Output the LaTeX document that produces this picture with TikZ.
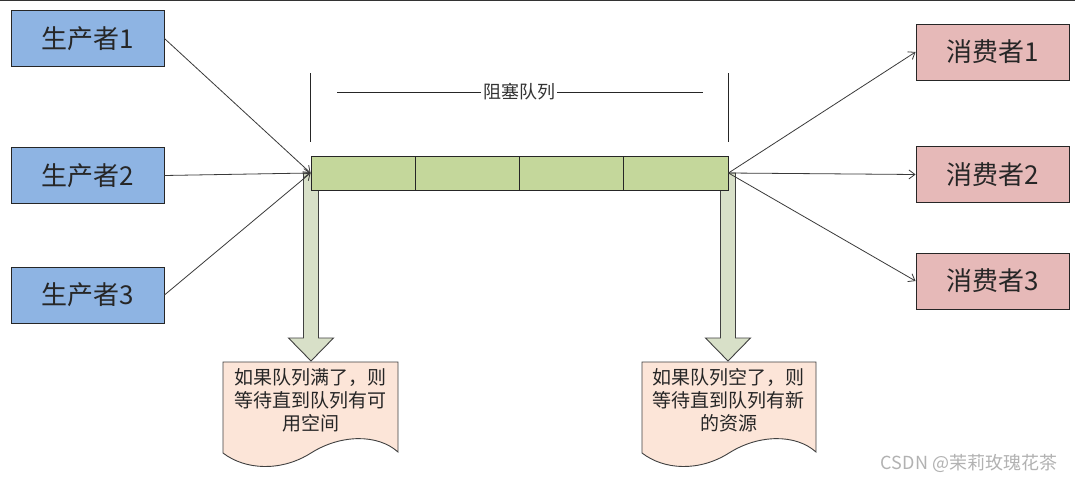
\documentclass[tikz,border=0pt]{standalone}
\usepackage{fontspec}
\newfontfamily\cjk{Noto Sans CJK SC}
\usetikzlibrary{arrows.meta,calc}
\definecolor{prodfill}{HTML}{8EB4E3}
\definecolor{consfill}{HTML}{E6B9B8}
\definecolor{qfill}{HTML}{C4D79B}
\definecolor{afill}{HTML}{D8E0C8}
\definecolor{docfill}{HTML}{FCE5D8}
\definecolor{edgec}{HTML}{262626}
\definecolor{conn}{HTML}{3A3A3A}
\tikzset{
  actor/.style={draw=edgec, line width=0.9pt, minimum width=153pt, minimum height=56pt, inner sep=0pt,
    font=\cjk\fontsize{26}{30}\selectfont, text=black!85},
  prod/.style={actor, fill=prodfill},
  cons/.style={actor, fill=consfill},
  cell/.style={draw=edgec, line width=0.9pt, fill=qfill, minimum width=104.25pt, minimum height=34pt, inner sep=0pt},
  flow/.style={draw=conn, line width=0.8pt, -{Straight Barb[length=6pt,width=9pt]}},
  bigarrow/.style={draw=black!75, line width=0.9pt, fill=afill},
  docshape/.style={draw=black!75, line width=0.9pt, fill=docfill},
  doctext/.style={align=center, font=\cjk\fontsize{19}{23}\selectfont, text=black!85, inner sep=0pt},
  bracket/.style={draw=black!85, line width=0.9pt},
}
\begin{document}
\begin{tikzpicture}[x=1pt,y=-1pt]
\useasboundingbox (0,0) rectangle (1075,481);
\fill[white] (0,0) rectangle (1075,481);
\draw[black!80, line width=1.5pt] (0,0.75) -- (1075,0.75);

% producers and consumers
\node[prod] (p1) at (87.5,38.5) {生产者1};
\node[prod] (p2) at (87.5,175.5) {生产者2};
\node[prod] (p3) at (87.5,295) {生产者3};
\node[cons] (c1) at (992.5,52) {消费者1};
\node[cons] (c2) at (992.5,174.5) {消费者2};
\node[cons] (c3) at (992.5,281) {消费者3};

% queue ends (for the big arrows drawn behind the queue)
\coordinate (qw) at (311,173);
\coordinate (qe) at (728,173);

% big down arrows (behind queue)
\draw[bigarrow] ($(qw)+(-7.5,0)$) -- ($(qw)+(-7.5,165)$) -- ($(qw)+(-22.5,165)$) -- ($(qw)+(0,188)$)
  -- ($(qw)+(22.5,165)$) -- ($(qw)+(7.5,165)$) -- ($(qw)+(7.5,0)$) -- cycle;
\draw[bigarrow] ($(qe)+(-7.5,0)$) -- ($(qe)+(-7.5,165)$) -- ($(qe)+(-22.5,165)$) -- ($(qe)+(0,188)$)
  -- ($(qe)+(22.5,165)$) -- ($(qe)+(7.5,165)$) -- ($(qe)+(7.5,0)$) -- cycle;

% queue
\node[cell] (q1) at (363.125,173) {};
\node[cell] (q2) at (467.375,173) {};
\node[cell] (q3) at (571.625,173) {};
\node[cell] (q4) at (675.875,173) {};

% bracket with label
\draw[bracket] ($(q1.north west)+(0,-14)$) -- ($(q1.north west)+(0,-83)$);
\draw[bracket] ($(q4.north east)+(0,-14)$) -- ($(q4.north east)+(0,-83)$);
\node[font=\cjk\fontsize{18}{20}\selectfont, text=black!80, inner sep=2pt] (lab) at (519,92) {阻塞队列};
\coordinate (bl) at (337,92);
\coordinate (br) at (703,92);
\draw[bracket] (bl) -- (lab.west);
\draw[bracket] (lab.east) -- (br);

% connectors
\draw[flow] (p1.east) -- (q1.west);
\draw[flow] (p2.east) -- (q1.west);
\draw[flow] (p3.east) -- (q1.west);
\draw[flow] (q4.east) -- (c1.west);
\draw[flow] (q4.east) -- (c2.west);
\draw[flow] (q4.east) -- (c3.west);

% documents
\begin{scope}[shift={(223,362)}]
\draw[docshape] (0,0) -- (175,0) -- (175,90) .. controls (155,72) and (118,72) .. (88,91)
  .. controls (58,110) and (22,108) .. (0,91) -- cycle;
\end{scope}
\begin{scope}[shift={(642,362)}]
\draw[docshape] (0,0) -- (174,0) -- (174,90) .. controls (154,72) and (117,72) .. (87,91)
  .. controls (57,110) and (22,108) .. (0,91) -- cycle;
\end{scope}
\node[doctext] (d1) at (310.5,400) {如果队列满了，则\\等待直到队列有可\\用空间};
\node[doctext] (d2) at (728.5,400) {如果队列空了，则\\等待直到队列有新\\的资源};

% watermark
\node[font=\cjk\fontsize{18}{20}\selectfont, text=black!30, inner sep=0pt] (wm) at (969,463) {CSDN @茉莉玫瑰花茶};
\end{tikzpicture}
\end{document}
